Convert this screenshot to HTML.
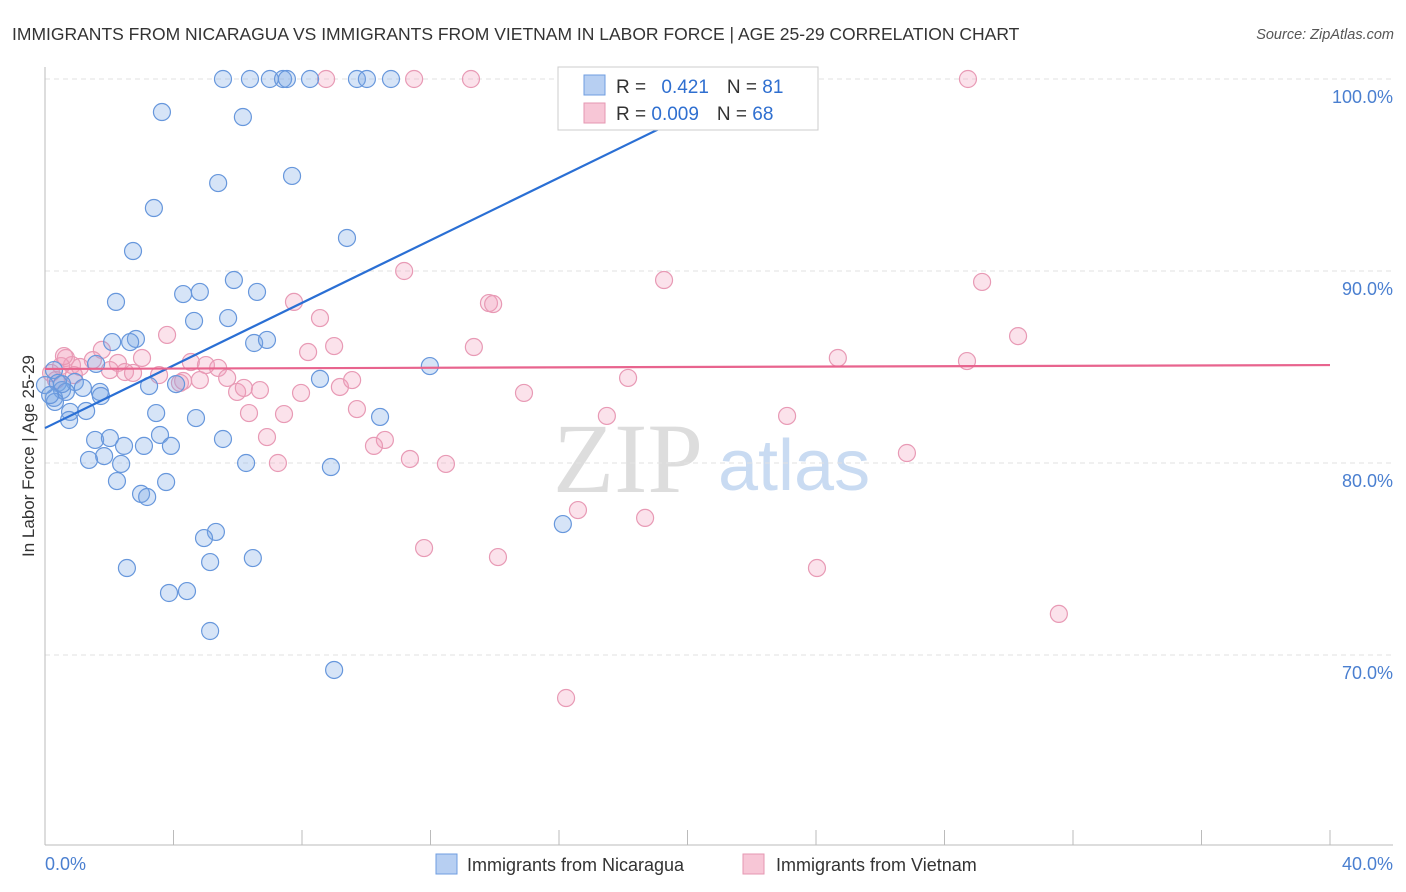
<!DOCTYPE html>
<html><head><meta charset="utf-8"><style>
body{margin:0;background:#fff;font-family:"Liberation Sans",sans-serif}
svg{display:block}
</style></head><body>
<svg id="chart" width="1406" height="892" xmlns="http://www.w3.org/2000/svg" font-family="Liberation Sans, sans-serif">
<text x="12" y="40" font-size="17.5" fill="#333">IMMIGRANTS FROM NICARAGUA VS IMMIGRANTS FROM VIETNAM IN LABOR FORCE | AGE 25-29 CORRELATION CHART</text>
<text x="1394" y="39" font-size="14.5" fill="#555" font-style="italic" text-anchor="end">Source: ZipAtlas.com</text>
<text transform="translate(34,456) rotate(-90)" font-size="17" fill="#333" text-anchor="middle">In Labor Force | Age 25-29</text>
<g>
<text x="553" y="492" font-size="100" font-family="Liberation Serif, serif" fill="#ddd">ZIP</text>
<text x="718" y="490" font-size="72" fill="#c9dbf2">atlas</text>
</g>
<g id="grid"></g><g id="axes"></g><g id="marks"></g>
<g>
<rect x="558" y="67" width="260" height="63" fill="#fff" stroke="#ccc"/>
<rect x="584" y="75" width="21" height="20" fill="#b7cff2" stroke="#6f9de0"/>
<rect x="584" y="103" width="21" height="20" fill="#f7c6d6" stroke="#e597b2"/>
<text x="616" y="93" font-size="19" fill="#333">R = <tspan fill="#2f6fd0" dx="10">0.421</tspan><tspan fill="#333" dx="18">N = </tspan><tspan fill="#2f6fd0">81</tspan></text>
<text x="616" y="120" font-size="19" fill="#333">R = <tspan fill="#2f6fd0">0.009</tspan><tspan fill="#333" dx="18">N = </tspan><tspan fill="#2f6fd0">68</tspan></text>
</g>
<g>
<rect x="436" y="854" width="21" height="20" fill="#b7cff2" stroke="#6f9de0"/>
<text x="467" y="871" font-size="18" fill="#333">Immigrants from Nicaragua</text>
<rect x="743" y="854" width="21" height="20" fill="#f7c6d6" stroke="#e597b2"/>
<text x="776" y="871" font-size="18" fill="#333">Immigrants from Vietnam</text>
</g>
</svg>
<script>
const yTicks=[100,90,80,70];
const yTickLabels=["100.0%","90.0%","80.0%","70.0%"];
const xTickLabels=["0.0%","40.0%"];
const blueX=[5.54,6.38,7.00,7.41,7.53,8.25,9.71,10.02,10.77,16.96,19.24,20.64,3.64,6.16,5.39,7.69,3.39,9.40,2.74,5.88,4.30,4.82,6.60,2.21,4.64,5.70,2.09,2.83,2.65,6.51,6.91,1.59,11.98,8.56,0.28,0.40,0.93,0.53,1.18,1.71,3.24,4.08,1.74,0.28,0.65,0.31,0.78,1.28,3.46,4.70,10.43,0.75,1.56,2.02,2.46,3.58,5.54,1.84,1.37,2.37,3.08,3.92,6.26,8.90,2.24,3.77,2.99,3.18,16.12,5.32,4.95,5.14,6.47,2.55,3.86,4.42,5.14,9.00,0,0.16,0.53];
const blueY=[100,100,100,100,100,100,100,100,100,100,100,100,98.28,98.02,94.58,94.95,93.28,91.72,91.04,89.53,88.80,88.91,88.91,88.39,87.40,87.55,86.30,86.46,86.30,86.25,86.41,85.16,85.05,84.38,84.84,84.17,84.22,83.80,83.91,83.70,84.01,84.11,83.49,83.39,83.70,83.18,82.66,82.71,82.60,82.34,82.40,82.24,81.20,81.30,80.89,81.46,81.25,80.36,80.16,79.95,80.89,80.89,80.00,79.79,79.06,79.01,78.39,78.23,76.82,76.41,76.09,74.84,75.05,74.53,73.23,73.33,71.25,69.22,84.06,83.54,84.11];
const pinkX=[8.75,11.49,13.26,28.73,11.18,19.27,29.17,13.82,13.95,7.75,8.56,30.29,3.80,9.00,13.35,8.19,1.77,0.65,1.49,3.02,4.54,2.27,5.01,5.39,2.02,2.49,2.74,3.55,24.68,28.70,0.84,0.50,0.19,4.30,4.82,5.67,4.20,5.98,6.19,6.69,7.97,9.18,9.56,14.91,18.15,6.35,7.44,9.71,17.49,23.10,6.91,10.58,10.24,11.36,12.48,7.25,26.83,16.59,18.68,11.80,14.10,24.03,31.56,16.22,0.34,0.59,1.09,0.90];
const pinkY=[100,100,100,100,90.0,89.53,89.43,88.33,88.28,88.39,87.55,86.61,86.67,86.09,86.04,85.78,85.89,85.47,85.36,85.47,85.26,85.21,85.10,84.95,84.84,84.74,84.69,84.58,85.47,85.31,85.10,85.05,84.69,84.27,84.32,84.43,84.17,83.70,83.91,83.80,83.65,83.96,84.32,83.65,84.43,82.60,82.55,82.81,82.45,82.45,81.35,81.20,80.89,80.21,79.95,80.0,80.52,77.55,77.14,75.57,75.10,74.53,72.14,67.76,84.32,85.57,85.0,84.58];
const blueTrend=[81.82,0.815];
const pinkTrend=[84.9,0.005];
const X=v=>45+v*32.125, Y=v=>79+(100-v)*19.2;
const NS="http://www.w3.org/2000/svg";
function mk(t,a,p){const e=document.createElementNS(NS,t);for(const k in a)e.setAttribute(k,a[k]);p.appendChild(e);return e;}
const grid=document.getElementById('grid'),axes=document.getElementById('axes'),marks=document.getElementById('marks');
yTicks.forEach((t,i)=>{
 const l=mk('line',{x1:45,x2:1393,y1:Y(t),y2:Y(t),stroke:'#e2e2e2','stroke-dasharray':'5,4'},grid);
 
 
 const tx=mk('text',{x:1393,y:Y(t)+24,'font-size':18,fill:'#4a7fd0','text-anchor':'end'},axes);
 tx.textContent=yTickLabels[i];
 
 
});
let a=mk('line',{x1:45,x2:45,y1:67,y2:845,stroke:'#bbb'},axes);


a=mk('line',{x1:45,x2:1393,y1:845,y2:845,stroke:'#bbb'},axes);


for(let i=1;i<=10;i++){
 const t=mk('line',{x1:X(i*4),x2:X(i*4),y1:830,y2:845,stroke:'#bbb'},axes);
 
 
}
xTickLabels.forEach((s,i)=>{
 const t=mk('text',{x:i?1393:45,y:870,'font-size':18,fill:'#4a7fd0','text-anchor':i?'end':'start'},axes);
 t.textContent=s;
 
 
});
pinkX.forEach((x,i)=>{
 const c=mk('circle',{cx:X(x),cy:Y(pinkY[i]),r:8.5,fill:'rgba(242,160,188,0.3)',stroke:'#e89ab5','stroke-width':1.2},marks);
 
 
});
blueX.forEach((x,i)=>{
 const c=mk('circle',{cx:X(x),cy:Y(blueY[i]),r:8.5,fill:'rgba(120,165,230,0.3)',stroke:'#6797dc','stroke-width':1.2},marks);
 
 
});
let tl=mk('line',{x1:X(0),y1:Y(blueTrend[0]),x2:X(19.5),y2:Y(blueTrend[0]+19.5*blueTrend[1]),stroke:'#2a6fd4','stroke-width':2.2},marks);


tl=mk('line',{x1:X(19.5),y1:Y(blueTrend[0]+19.5*blueTrend[1]),x2:X(22.3),y2:Y(blueTrend[0]+22.3*blueTrend[1]),stroke:'#9fc0ec','stroke-width':2,'stroke-dasharray':'4,3'},marks);


tl=mk('line',{x1:X(0),y1:Y(pinkTrend[0]),x2:X(40),y2:Y(pinkTrend[0]+40*pinkTrend[1]),stroke:'#e8648e','stroke-width':2.2},marks);


</script>
</body></html>
